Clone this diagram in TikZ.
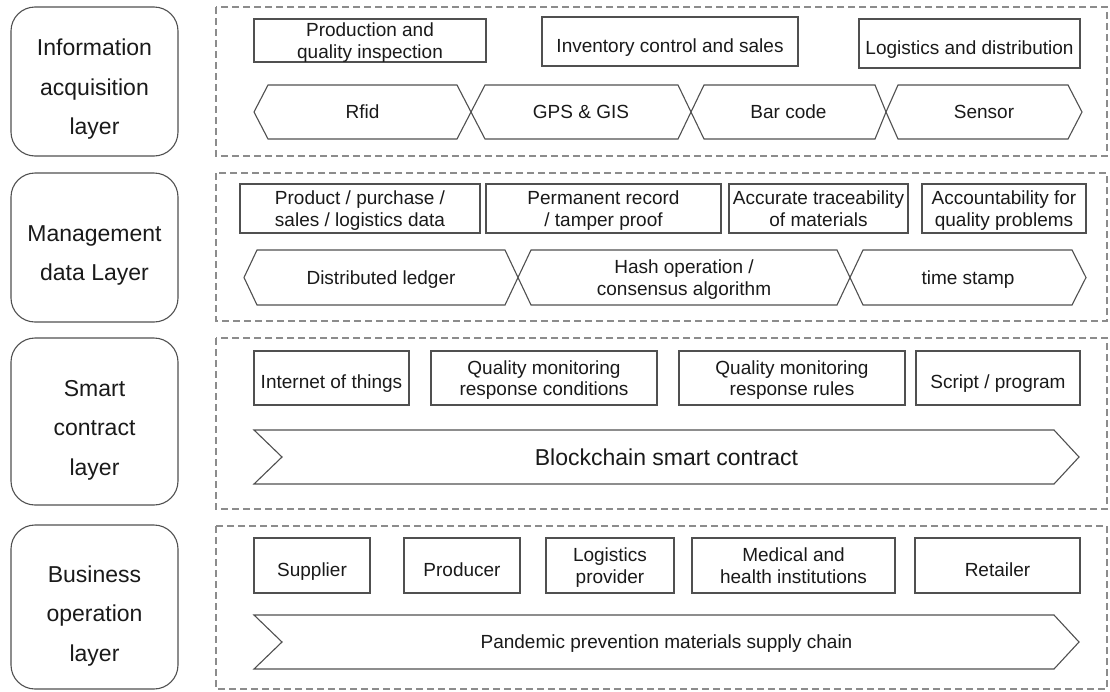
\documentclass[tikz,border=0pt]{standalone}
\usepackage{fontspec}
\setmainfont{Liberation Sans}
\definecolor{boxc}{HTML}{505050}
\definecolor{dashc}{HTML}{8C8C8C}
\definecolor{txtc}{HTML}{1A1A1A}
\newcommand{\fsmall}{\fontsize{19}{21.5}\selectfont}
\newcommand{\fbig}{\fontsize{23}{39.5}\selectfont}
\tikzset{
  layerbox/.style={draw=boxc, line width=1.1pt, rounded corners=24pt, fill=white},
  laylabel/.style={font=\fbig, align=center, text=txtc, inner sep=0pt},
  dashbox/.style={draw=dashc, line width=1.1pt, dash pattern=on 7pt off 4pt},
  cbox/.style={draw=boxc, line width=1.1pt, align=center, font=\fsmall, text=txtc, inner sep=0pt},
  onebox/.style={cbox, text height=25pt, text depth=4pt},
  twobox/.style={cbox, text depth=0pt},
  shp/.style={draw=boxc, line width=1.1pt, line join=miter},
  slabel/.style={font=\fsmall, align=center, text=txtc, inner sep=0pt, text height=17.6pt, text depth=4pt},
  tlabel/.style={font=\fsmall, align=center, text=txtc, inner sep=0pt, text depth=0pt},
  blabel/.style={font=\fbig, align=center, text=txtc, inner sep=0pt, text height=20.5pt, text depth=4pt},
}
\begin{document}
\begin{tikzpicture}[x=1pt, y=-1pt]
\useasboundingbox[fill=white] (0,0) rectangle (1110,691);

% layer boxes
\node[layerbox, minimum width=167pt, minimum height=149pt] (L1) at (94.5,81.5) {};
\node[layerbox, minimum width=167pt, minimum height=149pt] (L2) at (94.5,247.5) {};
\node[layerbox, minimum width=167pt, minimum height=167pt] (L3) at (94.5,421.5) {};
\node[layerbox, minimum width=167pt, minimum height=164pt] (L4) at (94.5,607) {};
\node[laylabel] (L1t) at (94.5,89.5) {Information\\acquisition\\layer};
\node[laylabel] (L2t) at (94.5,255.5) {Management\\data Layer};
\node[laylabel] (L3t) at (94.5,430) {Smart\\contract\\layer};
\node[laylabel] (L4t) at (94.5,616) {Business\\operation\\layer};

% dashed frames
\draw[dashbox] (216,7) rectangle (1107,156);
\draw[dashbox] (216,173) rectangle (1107,321);
\draw[dashbox] (216,338) rectangle (1107,509);
\draw[dashbox] (216,526) rectangle (1107,689);

% row 1
\node[twobox, minimum width=232pt, minimum height=43pt] (prod) at (370,40.5) {Production and\\quality inspection};
\node[onebox, minimum width=256pt, minimum height=49pt] (inv) at (670,41.5) {Inventory control and sales};
\node[onebox, minimum width=221pt, minimum height=49pt] (logi) at (969.5,43.5) {Logistics and distribution};

\draw[shp] (254,112) -- (268,85) -- (457,85) -- (471,112) -- (457,139) -- (268,139) -- cycle;
\draw[shp] (471,112) -- (485,85) -- (678,85) -- (691,112) -- (678,139) -- (485,139) -- cycle;
\draw[shp] (691,112) -- (704,85) -- (875,85) -- (886,112) -- (875,139) -- (704,139) -- cycle;
\draw[shp] (886,112) -- (898,85) -- (1068,85) -- (1082,112) -- (1068,139) -- (898,139) -- cycle;
\node[slabel] (rfid) at (362.5,112) {Rfid};
\node[slabel] (gps) at (581,112) {GPS \& GIS};
\node[slabel] (bar) at (788.5,112) {Bar code};
\node[slabel] (sens) at (984,112) {Sensor};

% row 2
\node[twobox, minimum width=240pt, minimum height=49pt] (pdata) at (360,208.5) {Product / purchase /\\sales / logistics data};
\node[twobox, minimum width=235pt, minimum height=49pt] (perm) at (603.5,208.5) {Permanent record\\/ tamper proof};
\node[twobox, minimum width=179pt, minimum height=49pt] (acc) at (818.5,208.5) {Accurate traceability\\of materials};
\node[twobox, minimum width=164pt, minimum height=49pt] (acct) at (1004,208.5) {Accountability for\\quality problems};

\draw[shp] (244,277.5) -- (257,250) -- (505,250) -- (518,277.5) -- (505,305) -- (257,305) -- cycle;
\draw[shp] (518,277.5) -- (531,250) -- (837,250) -- (850,277.5) -- (837,305) -- (531,305) -- cycle;
\draw[shp] (850,277.5) -- (863,250) -- (1072,250) -- (1086,277.5) -- (1072,305) -- (863,305) -- cycle;
\node[slabel] (dled) at (381,277.5) {Distributed ledger};
\node[tlabel] (hash) at (684,277.5) {Hash operation /\\consensus algorithm};
\node[slabel] (tstamp) at (968,277.5) {time stamp};

% row 3
\node[onebox, minimum width=155pt, minimum height=54pt] (iot) at (331.5,378) {Internet of things};
\node[twobox, minimum width=226pt, minimum height=54pt] (qmrc) at (544,378) {Quality monitoring\\response conditions};
\node[twobox, minimum width=226pt, minimum height=54pt] (qmrr) at (792,378) {Quality monitoring\\response rules};
\node[onebox, minimum width=164pt, minimum height=54pt] (scr) at (998,378) {Script / program};

\draw[shp] (254,430) -- (1054,430) -- (1079,457) -- (1054,484) -- (254,484) -- (282,457) -- cycle;
\node[blabel] (bsc) at (666.5,457) {Blockchain smart contract};

% row 4
\node[onebox, minimum width=116pt, minimum height=55pt] (sup) at (312,565.5) {Supplier};
\node[onebox, minimum width=116pt, minimum height=55pt] (prodc) at (462,565.5) {Producer};
\node[twobox, minimum width=128pt, minimum height=55pt] (lprov) at (610,565.5) {Logistics\\provider};
\node[twobox, minimum width=203pt, minimum height=55pt] (med) at (793.5,565.5) {Medical and\\health institutions};
\node[onebox, minimum width=165pt, minimum height=55pt] (ret) at (997.5,565.5) {Retailer};

\draw[shp] (254,615) -- (1054,615) -- (1079,642) -- (1054,669) -- (254,669) -- (282,642) -- cycle;
\node[slabel] (pan) at (666.5,642) {Pandemic prevention materials supply chain};
\end{tikzpicture}
\end{document}
